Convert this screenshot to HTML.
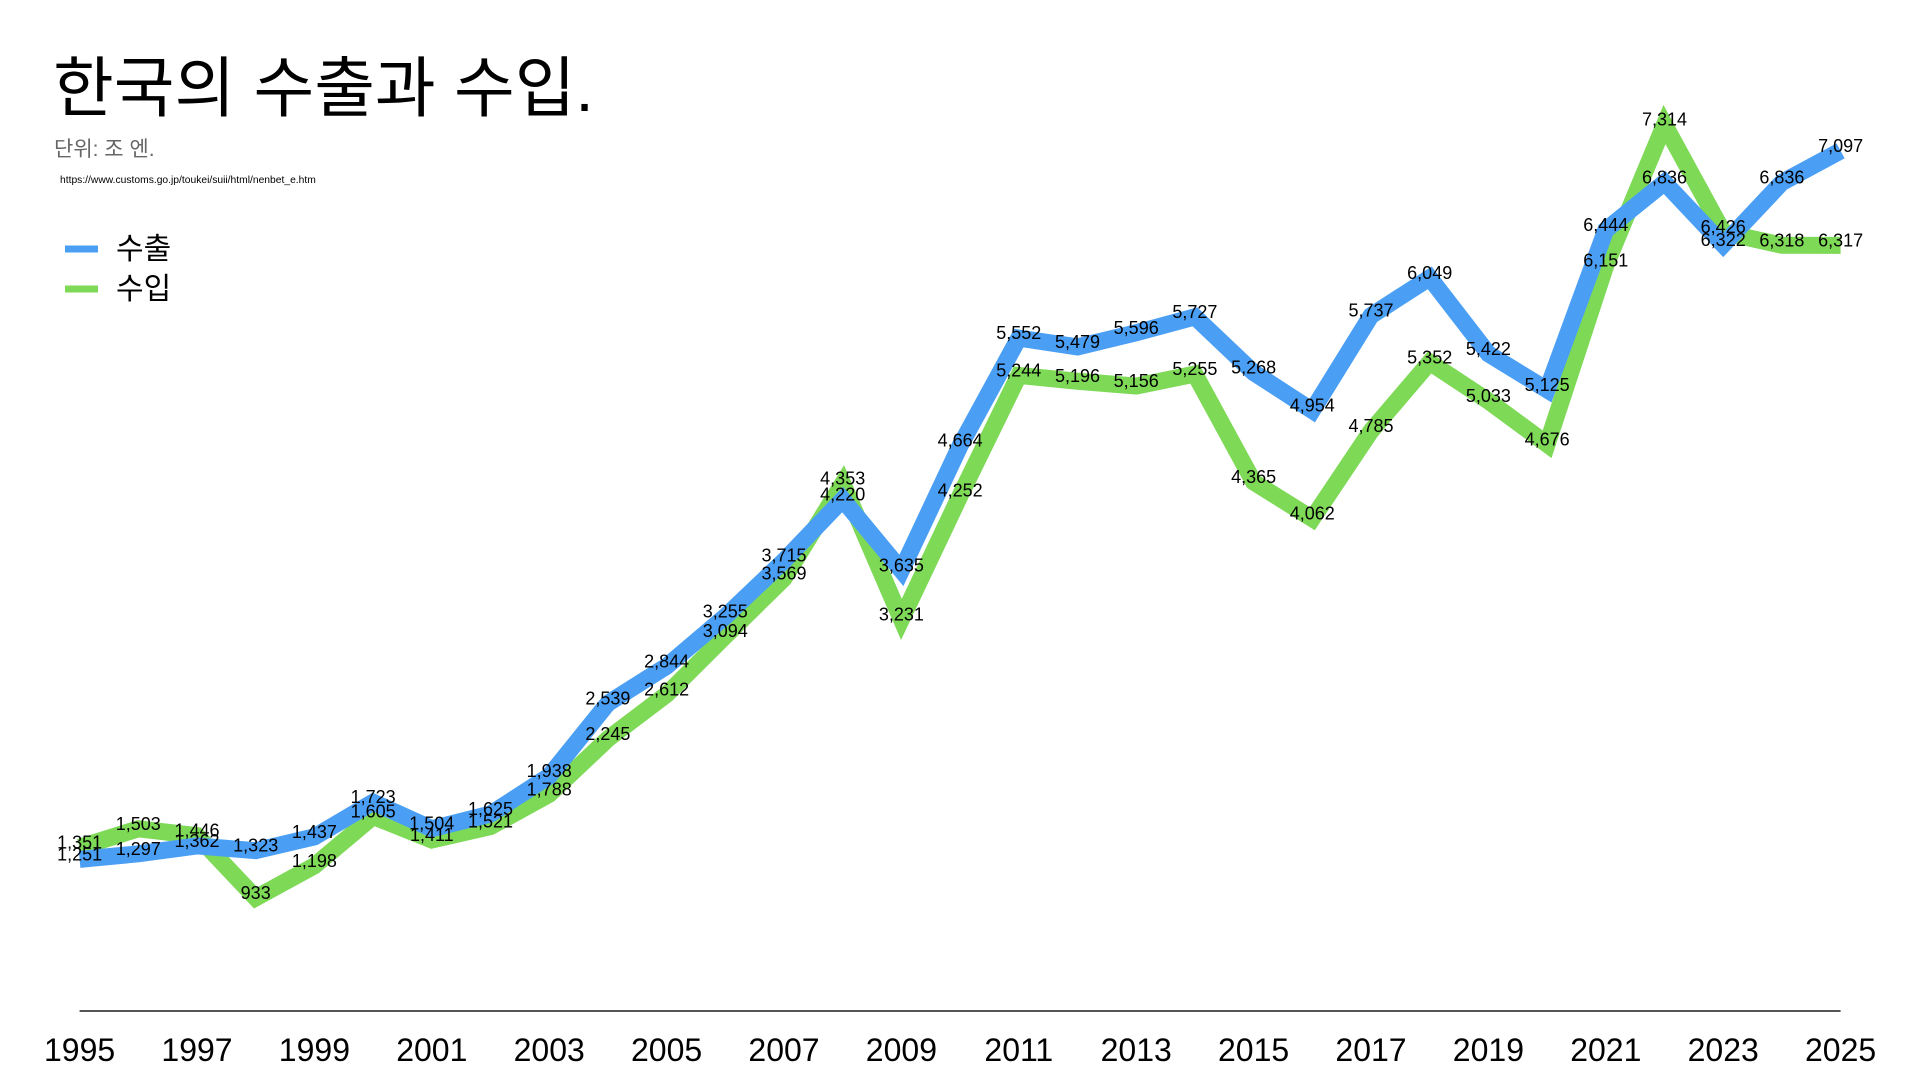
<!DOCTYPE html>
<html><head><meta charset="utf-8"><style>
html,body{margin:0;padding:0;background:#fff;width:1920px;height:1080px;overflow:hidden}
svg{display:block}
</style></head><body>
<svg width="1920" height="1080" xmlns="http://www.w3.org/2000/svg" font-family="'Liberation Sans','Noto Sans CJK KR',sans-serif">
<text x="53" y="111" font-size="66" fill="#000" font-family="'Liberation Sans','Noto Sans CJK KR',sans-serif">한국의 수출과 수입.</text>
<text x="54" y="156" font-size="21" fill="#666" font-family="'Liberation Sans','Noto Sans CJK KR',sans-serif">단위: 조 엔.</text>
<text x="60" y="183" font-size="10.3" fill="#000">https://www.customs.go.jp/toukei/suii/html/nenbet_e.htm</text>
<line x1="65" y1="249" x2="98" y2="249" stroke="#4a9ff5" stroke-width="7"/>
<line x1="65" y1="289" x2="98" y2="289" stroke="#7ed957" stroke-width="7"/>
<text x="116" y="259" font-size="30" fill="#000" font-family="'Liberation Sans','Noto Sans CJK KR',sans-serif">수출</text>
<text x="116" y="299" font-size="30" fill="#000" font-family="'Liberation Sans','Noto Sans CJK KR',sans-serif">수입</text>

<line x1="79.6" y1="1011" x2="1840.6" y2="1011" stroke="#555" stroke-width="2"/>

<g transform="translate(79.6,1011) scale(58.7,-0.1212)">
<polyline fill="none" stroke="#7ed957" stroke-width="17" vector-effect="non-scaling-stroke" stroke-linejoin="miter" points="0,1351 1,1503 2,1446 3,933 4,1198 5,1605 6,1411 7,1521 8,1788 9,2245 10,2612 11,3094 12,3569 13,4353 14,3231 15,4252 16,5244 17,5196 18,5156 19,5255 20,4365 21,4062 22,4785 23,5352 24,5033 25,4676 26,6151 27,7314 28,6426 29,6318 30,6317"/>
<polyline fill="none" stroke="#4a9ff5" stroke-width="17" vector-effect="non-scaling-stroke" stroke-linejoin="miter" points="0,1251 1,1297 2,1362 3,1323 4,1437 5,1723 6,1504 7,1625 8,1938 9,2539 10,2844 11,3255 12,3715 13,4220 14,3635 15,4664 16,5552 17,5479 18,5596 19,5727 20,5268 21,4954 22,5737 23,6049 24,5422 25,5125 26,6444 27,6836 28,6322 29,6836 30,7097"/>
</g>

<g font-size="18" fill="#000" text-anchor="middle" transform="translate(0,3)">
<text x="79.6" y="857.4">1,251</text>
<text x="138.3" y="851.8">1,297</text>
<text x="197" y="843.9">1,362</text>
<text x="255.7" y="848.7">1,323</text>
<text x="314.4" y="834.8">1,437</text>
<text x="373.1" y="800.2">1,723</text>
<text x="431.8" y="826.7">1,504</text>
<text x="490.5" y="812">1,625</text>
<text x="549.2" y="774.1">1,938</text>
<text x="607.9" y="701.3">2,539</text>
<text x="666.6" y="664.3">2,844</text>
<text x="725.3" y="614.5">3,255</text>
<text x="784" y="558.7">3,715</text>
<text x="842.7" y="497.5">4,220</text>
<text x="901.4" y="568.4">3,635</text>
<text x="960.1" y="443.7">4,664</text>
<text x="1018.8" y="336.1">5,552</text>
<text x="1077.5" y="344.9">5,479</text>
<text x="1136.2" y="330.8">5,596</text>
<text x="1194.9" y="314.9">5,727</text>
<text x="1253.6" y="370.5">5,268</text>
<text x="1312.3" y="408.6">4,954</text>
<text x="1371" y="313.7">5,737</text>
<text x="1429.7" y="275.9">6,049</text>
<text x="1488.4" y="351.9">5,422</text>
<text x="1547.1" y="387.8">5,125</text>
<text x="1605.8" y="228">6,444</text>
<text x="1664.5" y="180.5">6,836</text>
<text x="1723.2" y="242.8">6,322</text>
<text x="1781.9" y="180.5">6,836</text>
<text x="1840.6" y="148.8">7,097</text>

<text x="79.6" y="845.3">1,351</text>
<text x="138.3" y="826.8">1,503</text>
<text x="197" y="833.7">1,446</text>
<text x="255.7" y="895.9">933</text>
<text x="314.4" y="863.8">1,198</text>
<text x="373.1" y="814.5">1,605</text>
<text x="431.8" y="838">1,411</text>
<text x="490.5" y="824.7">1,521</text>
<text x="549.2" y="792.3">1,788</text>
<text x="607.9" y="736.9">2,245</text>
<text x="666.6" y="692.4">2,612</text>
<text x="725.3" y="634">3,094</text>
<text x="784" y="576.4">3,569</text>
<text x="842.7" y="481.4">4,353</text>
<text x="901.4" y="617.4">3,231</text>
<text x="960.1" y="493.7">4,252</text>
<text x="1018.8" y="373.4">5,244</text>
<text x="1077.5" y="379.2">5,196</text>
<text x="1136.2" y="384.1">5,156</text>
<text x="1194.9" y="372.1">5,255</text>
<text x="1253.6" y="480">4,365</text>
<text x="1312.3" y="516.7">4,062</text>
<text x="1371" y="429.1">4,785</text>
<text x="1429.7" y="360.3">5,352</text>
<text x="1488.4" y="399">5,033</text>
<text x="1547.1" y="442.3">4,676</text>
<text x="1605.8" y="263.5">6,151</text>
<text x="1664.5" y="122.5">7,314</text>
<text x="1723.2" y="230.2">6,426</text>
<text x="1781.9" y="243.3">6,318</text>
<text x="1840.6" y="243.4">6,317</text>
</g>

<g font-size="32" fill="#000" text-anchor="middle">
<text x="79.6" y="1061">1995</text>
<text x="197" y="1061">1997</text>
<text x="314.4" y="1061">1999</text>
<text x="431.8" y="1061">2001</text>
<text x="549.2" y="1061">2003</text>
<text x="666.6" y="1061">2005</text>
<text x="784" y="1061">2007</text>
<text x="901.4" y="1061">2009</text>
<text x="1018.8" y="1061">2011</text>
<text x="1136.2" y="1061">2013</text>
<text x="1253.6" y="1061">2015</text>
<text x="1371" y="1061">2017</text>
<text x="1488.4" y="1061">2019</text>
<text x="1605.8" y="1061">2021</text>
<text x="1723.2" y="1061">2023</text>
<text x="1840.6" y="1061">2025</text>
</g>
</svg>
</body></html>
